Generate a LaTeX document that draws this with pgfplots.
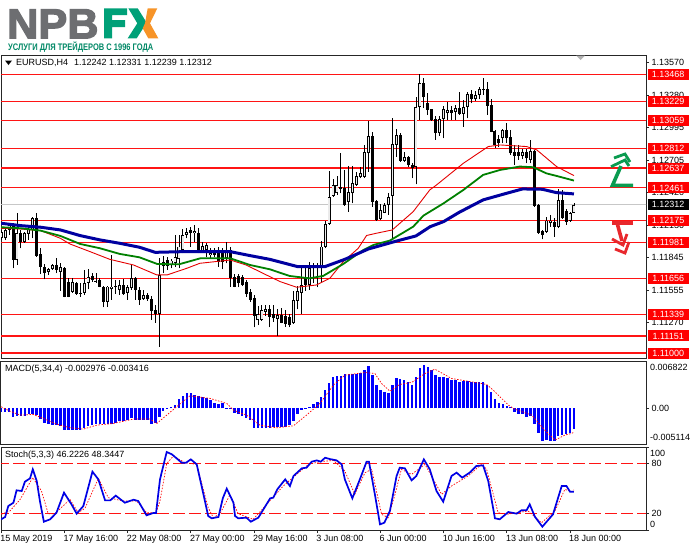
\documentclass[border=0pt]{standalone}
\usepackage{fontspec}
\usepackage{graphicx}
\setmainfont{Liberation Sans}
\newfontfamily\logofont[FakeBold=3]{Liberation Sans Bold}
\usepackage{pgfplots}
\usepackage{pgfplotstable}
\pgfplotsset{compat=1.18}

\definecolor{maBlue}{RGB}{0,0,160}
\definecolor{maGreen}{RGB}{0,128,0}
\definecolor{levelRed}{RGB}{255,20,20}
\definecolor{logoGrey}{RGB}{109,110,113}
\definecolor{logoGreen}{RGB}{0,160,120}
\definecolor{logoOrange}{RGB}{247,148,40}
\definecolor{upArrow}{RGB}{10,155,80}
\definecolor{dnArrow}{RGB}{232,40,45}
\newcommand{\mtfont}{\fontsize{9}{11}\selectfont}

% EURUSD H4 candles: bar open high low close
\pgfplotstableread{
i o h l c
0 1.12015 1.12089 1.12000 1.12074
1 1.12015 1.12095 1.12000 1.12089
2 1.12089 1.12154 1.12045 1.12133
3 1.12133 1.12148 1.11750 1.11824
4 1.11824 1.12237 1.11779 1.12060
5 1.12060 1.12089 1.11927 1.11986
6 1.11986 1.12074 1.11977 1.12060
7 1.12054 1.12133 1.12000 1.12095
8 1.12089 1.12201 1.12015 1.12192
9 1.12192 1.12237 1.11853 1.11859
10 1.11877 1.11927 1.11700 1.11765
11 1.11759 1.11788 1.11652 1.11706
12 1.11720 1.11750 1.11691 1.11741
13 1.11741 1.11785 1.11735 1.11779
14 1.11779 1.11838 1.11706 1.11735
15 1.11720 1.11800 1.11552 1.11759
16 1.11750 1.11765 1.11493 1.11499
17 1.11632 1.11661 1.11493 1.11499
18 1.11543 1.11661 1.11534 1.11632
19 1.11623 1.11632 1.11514 1.11523
20 1.11534 1.11623 1.11499 1.11523
21 1.11534 1.11735 1.11514 1.11623
22 1.11623 1.11741 1.11564 1.11670
23 1.11682 1.11706 1.11632 1.11647
24 1.11638 1.11706 1.11623 1.11632
25 1.11647 1.11661 1.11582 1.11588
26 1.11588 1.11593 1.11405 1.11455
27 1.11455 1.11593 1.11410 1.11588
28 1.11564 1.11868 1.11470 1.11588
29 1.11588 1.11647 1.11523 1.11582
30 1.11558 1.11647 1.11514 1.11602
31 1.11602 1.11652 1.11514 1.11523
32 1.11534 1.11602 1.11470 1.11582
33 1.11573 1.11788 1.11558 1.11661
34 1.11661 1.11676 1.11470 1.11558
35 1.11558 1.11582 1.11425 1.11470
36 1.11475 1.11558 1.11470 1.11514
37 1.11514 1.11529 1.11464 1.11475
38 1.11475 1.11505 1.11293 1.11375
39 1.11381 1.11425 1.11269 1.11346
40 1.11346 1.11838 1.11056 1.11691
41 1.11770 1.11859 1.11706 1.11809
42 1.11824 1.11853 1.11735 1.11770
43 1.11779 1.11829 1.11750 1.11818
44 1.11794 1.12045 1.11765 1.11847
45 1.11829 1.12045 1.11750 1.11942
46 1.11912 1.12095 1.11883 1.12045
47 1.12045 1.12104 1.12015 1.12074
48 1.12089 1.12119 1.11942 1.12060
49 1.12060 1.12133 1.11986 1.12083
50 1.12060 1.12104 1.11883 1.11906
51 1.11906 1.11986 1.11897 1.11947
52 1.11912 1.11977 1.11853 1.11956
53 1.11868 1.11927 1.11838 1.11888
54 1.11897 1.11927 1.11847 1.11868
55 1.11897 1.11942 1.11765 1.11809
56 1.11897 1.11927 1.11741 1.11809
57 1.11838 1.11986 1.11794 1.11897
58 1.11912 1.11942 1.11588 1.11661
59 1.11676 1.11700 1.11582 1.11588
60 1.11682 1.11700 1.11582 1.11617
61 1.11676 1.11691 1.11593 1.11602
62 1.11632 1.11647 1.11499 1.11523
63 1.11543 1.11564 1.11455 1.11470
64 1.11484 1.11514 1.11228 1.11328
65 1.11293 1.11416 1.11248 1.11346
66 1.11293 1.11425 1.11287 1.11381
67 1.11366 1.11425 1.11328 1.11387
68 1.11387 1.11425 1.11228 1.11322
69 1.11346 1.11425 1.11278 1.11307
70 1.11301 1.11387 1.11151 1.11337
71 1.11337 1.11396 1.11263 1.11269
72 1.11331 1.11381 1.11234 1.11257
73 1.11322 1.11346 1.11228 1.11248
74 1.11263 1.11552 1.11257 1.11470
75 1.11464 1.11593 1.11387 1.11552
76 1.11534 1.11779 1.11346 1.11602
77 1.11676 1.11779 1.11552 1.11602
78 1.11602 1.11809 1.11558 1.11750
79 1.11765 1.11794 1.11617 1.11750
80 1.11765 1.11794 1.11582 1.11759
81 1.11765 1.11995 1.11632 1.11942
82 1.11941 1.12171 1.11926 1.12142
83 1.12142 1.12614 1.12133 1.12384
84 1.12389 1.12537 1.12384 1.12487
85 1.12413 1.12566 1.12398 1.12487
86 1.12466 1.12767 1.12413 1.12448
87 1.12457 1.12620 1.12301 1.12310
88 1.12339 1.12655 1.12251 1.12428
89 1.12413 1.12655 1.12325 1.12508
90 1.12487 1.12605 1.12478 1.12567
91 1.12555 1.12649 1.12546 1.12596
92 1.12561 1.12841 1.12546 1.12782
93 1.12767 1.13054 1.12605 1.12921
94 1.12921 1.12959 1.12295 1.12340
95 1.12349 1.12355 1.12172 1.12178
96 1.12183 1.12319 1.12178 1.12266
97 1.12242 1.12325 1.12237 1.12310
98 1.12310 1.12414 1.12222 1.12384
99 1.12390 1.13077 1.12000 1.12850
100 1.12841 1.12980 1.12738 1.12930
101 1.12930 1.12945 1.12694 1.12703
102 1.12703 1.12782 1.12694 1.12738
103 1.12738 1.12744 1.12650 1.12664
104 1.12664 1.12685 1.12546 1.12635
105 1.12650 1.13263 1.12493 1.13175
106 1.13175 1.13467 1.13062 1.13387
107 1.13393 1.13431 1.13166 1.13263
108 1.13216 1.13299 1.13107 1.13151
109 1.13157 1.13163 1.13057 1.13062
110 1.13068 1.13098 1.12886 1.12945
111 1.12945 1.13098 1.12921 1.13068
112 1.13068 1.13186 1.12900 1.13157
113 1.13122 1.13225 1.13062 1.13151
114 1.13151 1.13186 1.13062 1.13122
115 1.13136 1.13195 1.13062 1.13166
116 1.13166 1.13313 1.13107 1.13116
117 1.13116 1.13240 1.13004 1.13175
118 1.13175 1.13313 1.13077 1.13290
119 1.13290 1.13328 1.13210 1.13245
120 1.13245 1.13322 1.13234 1.13284
121 1.13284 1.13352 1.13245 1.13334
122 1.13328 1.13431 1.13284 1.13334
123 1.13334 1.13402 1.13107 1.13186
124 1.13195 1.13245 1.12953 1.12959
125 1.12968 1.12974 1.12812 1.12841
126 1.12891 1.12930 1.12821 1.12856
127 1.12900 1.12980 1.12856 1.12974
128 1.12974 1.13033 1.12856 1.12900
129 1.12915 1.12974 1.12753 1.12767
130 1.12782 1.12841 1.12664 1.12744
131 1.12782 1.12841 1.12708 1.12744
132 1.12744 1.12803 1.12714 1.12782
133 1.12782 1.12803 1.12679 1.12723
134 1.12708 1.12886 1.12679 1.12788
135 1.12791 1.12797 1.12295 1.12301
136 1.12310 1.12319 1.12054 1.12065
137 1.12083 1.12089 1.12006 1.12045
138 1.12074 1.12201 1.12065 1.12172
139 1.12148 1.12222 1.12119 1.12172
140 1.12163 1.12192 1.12030 1.12119
141 1.12119 1.12449 1.12104 1.12355
142 1.12355 1.12443 1.12186 1.12192
143 1.12260 1.12272 1.12133 1.12163
144 1.12172 1.12251 1.12163 1.12242
145 1.12242 1.12331 1.12239 1.12312
}\candles

% MACD histogram
\pgfplotstableread{
i m
0 -0.00057
1 -0.00057
2 -0.00048
3 -0.00125
4 -0.00105
5 -0.00115
6 -0.00110
7 -0.00086
8 -0.00077
9 -0.00096
10 -0.00153
11 -0.00216
12 -0.00230
13 -0.00235
14 -0.00244
15 -0.00249
16 -0.00316
17 -0.00307
18 -0.00316
19 -0.00316
20 -0.00316
21 -0.00287
22 -0.00249
23 -0.00240
24 -0.00230
25 -0.00225
26 -0.00225
27 -0.00220
28 -0.00220
29 -0.00206
30 -0.00182
31 -0.00182
32 -0.00163
33 -0.00144
34 -0.00163
35 -0.00172
36 -0.00172
37 -0.00172
38 -0.00230
39 -0.00216
40 -0.00125
41 -0.00038
42 0.00010
43 0.00024
44 0.00048
45 0.00134
46 0.00182
47 0.00216
48 0.00220
49 0.00192
50 0.00172
51 0.00168
52 0.00144
53 0.00120
54 0.00072
55 0.00062
56 0.00072
57 0.00010
58 -0.00010
59 -0.00072
60 -0.00086
61 -0.00105
62 -0.00134
63 -0.00168
64 -0.00278
65 -0.00287
66 -0.00278
67 -0.00278
68 -0.00278
69 -0.00268
70 -0.00268
71 -0.00268
72 -0.00268
73 -0.00240
74 -0.00182
75 -0.00086
76 -0.00019
77 -0.00014
78 0.00024
79 0.00057
80 0.00096
81 0.00168
82 0.00263
83 0.00359
84 0.00455
85 0.00469
86 0.00469
87 0.00489
88 0.00489
89 0.00498
90 0.00498
91 0.00508
92 0.00546
93 0.00604
94 0.00479
95 0.00335
96 0.00263
97 0.00230
98 0.00220
99 0.00335
100 0.00431
101 0.00422
102 0.00407
103 0.00383
104 0.00335
105 0.00455
106 0.00575
107 0.00623
108 0.00599
109 0.00551
110 0.00479
111 0.00455
112 0.00455
113 0.00431
114 0.00407
115 0.00407
116 0.00383
117 0.00393
118 0.00393
119 0.00374
120 0.00374
121 0.00374
122 0.00374
123 0.00335
124 0.00230
125 0.00134
126 0.00072
127 0.00057
128 0.00038
129 0.00014
130 -0.00057
131 -0.00086
132 -0.00086
133 -0.00120
134 -0.00105
135 -0.00230
136 -0.00359
137 -0.00465
138 -0.00460
139 -0.00469
140 -0.00469
141 -0.00393
142 -0.00383
143 -0.00374
144 -0.00359
145 -0.00298
}\macdbars

\begin{document}
\begin{tikzpicture}[x=1pt,y=1pt]
\path[use as bounding box,fill=white] (0,0) rectangle (691,-549);

\pgfplotsset{
  pane/.style={
    at={(1pt,#1)},anchor=south west,scale only axis,width=645pt,
    xmin=-0.05,xmax=163.24,clip mode=individual,
    axis line style={draw=black!85,line width=1pt},
    tick style={black!85,line width=0.8pt},major tick length=3pt,
    tick align=outside,xtick pos=bottom,ytick pos=right,
    scaled y ticks=false,
    tick label style={font=\mtfont,inner sep=0pt},
    y tick label style={anchor=west,xshift=2.5pt},
  },
  candle/.style={draw=none,forget plot,error bars/y dir=plus,error bars/y explicit,error bars/error mark=none},
}

% main price pane
\begin{axis}[pane={-358pt},height=303pt,ymin=1.10956,ymax=1.13637,xtick=\empty,
  ytick={1.11270,1.11555,1.11845,1.12130,1.12420,1.12705,1.12995,1.13280,1.13570},
  yticklabels={1.11270,1.11555,1.11845,1.12130,1.12420,1.12705,1.12995,1.13280,1.13570}]
\addplot[black!22,line width=1pt,forget plot] coordinates {(-1,1.12312)(164,1.12312)};
\coordinate (lvlNow) at (axis cs:163.24,1.12312);
\pgfplotsinvokeforeach{13468,13229,13059,12812,12637,12461,12175,11981,11656,11339,11151,11000}{
  \addplot[levelRed,line width=1.1pt,forget plot] coordinates {(-1,1.#1)(164,1.#1)};
  \coordinate (lvl#1) at (axis cs:163.24,1.#1);
}
% wicks
\addplot[candle,error bars/error bar style={draw=black,line width=0.9pt}]
  table[x=i,y=l,y error expr=\thisrow{h}-\thisrow{l}] {\candles};
% bodies
\addplot[candle,error bars/error bar style={draw=black,line width=3pt}]
  table[x=i,y expr={min(\thisrow{o},\thisrow{c})},y error expr={max(abs(\thisrow{c}-\thisrow{o}),0.00008)}] {\candles};
% hollow centre of the rising bars
\addplot[candle,restrict expr to domain={\thisrow{c}-\thisrow{o}}{0.0002:1},
  error bars/error bar style={draw=white!92!black,line width=1.2pt}]
  table[x=i,y expr=\thisrow{o}+0.00008,y error expr=\thisrow{c}-\thisrow{o}-0.00016] {\candles};
% moving averages
\addplot[red!90!black,line width=0.9pt,forget plot] coordinates {
(0,1.12104)(5,1.12097)(10,1.12083)(15,1.12015)(17.4,1.11965)(22.5,1.11897)(27.5,1.11829)(33.5,1.11779)(39.4,1.11691)(42,1.11691)(47,1.11750)(50.3,1.11794)(58,1.11823)(62,1.11779)(66.3,1.11705)(70.6,1.11632)(74.8,1.11582)(79.8,1.11602)(83.2,1.11661)(86.6,1.11809)(90.4,1.11927)(92.5,1.12040)(95,1.12060)(99,1.12089)(104.3,1.12251)(108.5,1.12443)(110.2,1.12487)(117,1.12679)(123.3,1.12827)(126.3,1.12841)(133,1.12827)(135.6,1.12797)(140.6,1.12650)(145,1.12570)};
\addplot[maGreen,line width=1.8pt,forget plot] coordinates {
(0,1.12113)(5,1.12104)(10,1.12083)(15,1.12036)(20,1.11965)(25,1.11927)(30,1.11877)(35,1.11847)(39.5,1.11788)(45,1.11785)(50.4,1.11838)(58,1.11838)(63,1.11779)(68,1.11741)(73,1.11682)(78,1.11661)(81.5,1.11682)(86.6,1.11788)(91.7,1.11912)(94.2,1.11956)(98.4,1.11995)(104.3,1.12118)(106.9,1.12216)(112,1.12325)(117,1.12443)(122,1.12576)(126.3,1.12620)(131.3,1.12650)(134.7,1.12644)(138,1.12590)(140.6,1.12567)(145,1.12526)};
\addplot[maBlue,line width=3pt,forget plot] coordinates {
(0,1.12148)(5,1.12127)(10,1.12113)(15,1.12089)(20,1.12039)(25,1.12001)(30,1.11971)(35,1.11936)(39,1.11891)(46,1.11897)(58,1.11897)(63,1.11862)(68,1.11829)(75,1.11765)(82,1.11765)(87,1.11829)(93,1.11921)(100,1.11990)(105,1.12036)(108.6,1.12118)(112,1.12163)(116,1.12246)(122,1.12355)(128,1.12414)(132,1.12452)(137,1.12449)(140.6,1.12419)(145,1.12408)};
\end{axis}

% MACD pane
\begin{axis}[pane={-444pt},height=83pt,ymin=-0.005114,ymax=0.006822,xtick=\empty,
  ytick={0},yticklabels={0.00}]
\addplot[ycomb,blue,line width=2.6pt,forget plot] table[x=i,y=m] {\macdbars};
\addplot[red,line width=0.7pt,dash pattern=on 1.5pt off 1.5pt,forget plot] coordinates {
(0,0.00024)(2.2,-0.00038)(4.8,-0.00096)(8.1,-0.00086)(10.7,-0.00144)(14,-0.00225)(17.4,-0.00278)(20.8,-0.00297)(24.2,-0.00240)(28.4,-0.00216)(33.5,-0.00153)(37.7,-0.00153)(39.4,-0.00216)(41.9,-0.00096)(44.4,0.00024)(47.8,0.00182)(52.9,0.00144)(57.1,0.00072)(58.8,-0.00024)(62.1,-0.00096)(65.5,-0.00240)(69.7,-0.00278)(74,-0.00249)(77.3,-0.00096)(80.7,0.00072)(84.1,0.00335)(87,0.00479)(92.1,0.00517)(94.6,0.00503)(96.3,0.00359)(98.4,0.00249)(100.9,0.00345)(103.9,0.00374)(107.3,0.00503)(109.8,0.00565)(114,0.00431)(119.1,0.00383)(122.9,0.00345)(125,0.00240)(128.4,0.00048)(130,-0.00010)(134.3,-0.00096)(137.6,-0.00311)(140.2,-0.00455)(142.7,-0.00383)(144.4,-0.00359)(145,-0.00342)};
\end{axis}

% stochastic pane
\begin{axis}[pane={-530pt},height=83pt,ymin=0,ymax=100,
  ytick={0,20,80,100},yticklabels={,20,80,},
  xtick={0,16,...,144},
  xticklabels={15 May 2019,17 May 16:00,22 May 08:00,27 May 00:00,29 May 16:00,3 Jun 08:00,6 Jun 00:00,10 Jun 16:00,13 Jun 08:00,18 Jun 00:00},
  x tick label style={anchor=north west,xshift=-1pt,yshift=-2.5pt}]
\addplot[levelRed,line width=1.4pt,dash pattern=on 12pt off 4pt,forget plot] coordinates {(-1,80)(164,80)};
\addplot[levelRed,line width=1.4pt,dash pattern=on 12pt off 4pt,forget plot] coordinates {(-1,20)(164,20)};
\addplot[red,line width=0.7pt,dash pattern=on 1.5pt off 1.5pt,forget plot] coordinates {
(0,18.9)(2.2,22.9)(4.8,36.9)(8,63.1)(10.2,47)(11.9,19.7)(13.6,19.7)(17.4,36.9)(19.5,20.9)(21.2,26.1)(24.6,62.2)(27.1,39)(30.9,34.9)(34.3,34.9)(36.8,20.9)(39.2,20.9)(40.2,34.9)(41.9,79.9)(43.6,89.2)(46.5,81.1)(49.5,79.1)(52.4,26.9)(53.7,14.9)(55.4,19.7)(57.9,42.2)(60,19.7)(63.8,12.9)(67.2,30.9)(71.4,53)(74.8,67.1)(77.8,79.1)(80.7,82.3)(84.1,83.9)(87,71.1)(89.5,43)(92.1,69.1)(93.8,73.1)(96.3,18.9)(98,14.9)(99.7,43)(101.3,73.1)(103.9,67.1)(107.3,79.1)(111.5,43)(114,53)(118.2,65.1)(121.6,79.1)(122.9,73.1)(125.8,20.9)(127.9,18.9)(133.4,22.9)(136.8,8.8)(140.2,22.9)(142.7,49)(144.4,46.2)(145,48.3)};
\addplot[blue!90!black,line width=1.7pt,forget plot] coordinates {
(0,12.9)(1,15.7)(1.8,28.9)(3.1,32.9)(3.9,47.8)(5.2,47)(6,58.2)(7.3,62.2)(8,73.1)(9,59)(9.8,34.9)(10.8,10)(12.4,12.9)(14,20.9)(15.9,45)(17.8,30.9)(19.1,19.7)(20.8,28.9)(23.1,70.3)(24.6,61)(26.3,35.7)(27.6,35.7)(29,41.4)(31.3,32.9)(33.5,36.5)(34.7,34.9)(36.8,17.7)(38.5,20.5)(39.2,20.5)(40.2,61)(41.9,94)(43.2,91.2)(45.7,81.1)(46.8,81.1)(48,85.1)(49.5,79.1)(51.2,43)(52.4,16.9)(53.3,14.1)(55,15.7)(56.1,38.2)(57.1,49.8)(58.8,32.9)(59.2,16.9)(60,14.1)(62.1,14.9)(63.2,10)(65.1,14.9)(68.1,38.2)(68.9,39)(69.9,49)(71.9,61)(73.1,53)(74,65.1)(76.1,74.3)(77.3,75.1)(78.6,82.3)(79.9,83.9)(80.9,82.3)(82,87.1)(83.2,85.5)(84.9,83.9)(86.2,79.1)(87,61)(88.9,38.2)(90.8,61)(92.5,82.3)(93.1,82.3)(94.6,43)(95.9,6.8)(97,8.8)(98.4,22.9)(100.1,65.1)(100.9,75.1)(102.2,74.3)(103.9,59.8)(105.1,65.1)(107,85.1)(108.5,73.1)(110.2,47)(111.9,34.1)(114,65.1)(115.3,69.1)(116.7,63.1)(118.6,69.1)(120.3,77.1)(122,77.9)(123.3,59)(125,14.1)(126.2,12.9)(128.4,21.7)(130.5,19.7)(131.7,23.7)(133,23.7)(133.8,30.9)(135.1,16.1)(137,4)(139.7,18.9)(141.9,53)(143.1,53)(144,46.2)(145,46.2)};
\end{axis}

% price tags on the right scale
\tikzset{pricetag/.style={anchor=west,inner sep=0pt,minimum width=41pt,minimum height=11pt,
  text=white,xshift=1.5pt,font=\mtfont}}
\foreach \v in {13468,13229,13059,12812,12637,12461,12175,11981,11656,11339,11151,11000}
  \node[pricetag,fill=red] at (lvl\v) {1.\v};
\node[pricetag,fill=black] at (lvlNow) {1.12312};

% scale labels set inside the pane edges
\tikzset{scalelab/.style={anchor=west,inner sep=0pt,font=\mtfont}}
\node[scalelab] at (650,-367.7) {0.006822};
\node[scalelab] at (650,-437.7) {-0.005114};
\node[scalelab] at (650,-453.3) {100};
\node[scalelab] at (650,-524) {0};

% pane captions
\tikzset{caption/.style={anchor=west,inner sep=0pt,font=\mtfont}}
\fill[black] (5,-60.5) -- (12,-60.5) -- (8.5,-65) -- cycle;
\node[caption] at (16,-63) {EURUSD,H4\hspace{6pt}1.12242 1.12331 1.12239 1.12312};
\node[caption] at (5,-369.5) {MACD(5,34,4) -0.002976 -0.003416};
\node[caption] at (5,-455.5) {Stoch(5,3,3) 46.2226 48.3447};
\fill[black!30] (576,-55.5) -- (585,-55.5) -- (580.5,-60) -- cycle;

% arrows
\draw[upArrow,line width=3.6pt,line join=miter] (633,-185.3) -- (612.5,-185.3) -- (621,-166);
\draw[upArrow,line width=2.8pt] (611,-166.7) -- (625,-160) -- (629,-166);
\draw[upArrow,line width=2.8pt] (614,-158) -- (625,-154) -- (630,-162);
\draw[dnArrow,line width=3.6pt] (633,-222.7) -- (612,-222.7);
\draw[dnArrow,line width=3.6pt] (617,-222.7) -- (622,-241);
\draw[dnArrow,line width=2.8pt] (612,-239) -- (623,-245) -- (627,-234);
\draw[dnArrow,line width=2.8pt] (615,-249) -- (625,-253) -- (629,-242);

% logo
\node[anchor=base west,inner sep=0pt,text=logoGrey,font=\logofont\fontsize{42}{42}\selectfont] at (7,-38.3) {\scalebox{1.03}[1]{NPB}};
\fill[logoGreen] (104,-8.3) -- (127,-8.3) -- (127,-15) -- (112,-15) -- (112,-20) -- (125,-20) -- (125,-27) -- (112,-27) -- (112,-38.3) -- (104,-38.3) -- cycle;
\fill[logoGreen] (128.3,-8.3) -- (137.7,-8.3) -- (146.7,-22.7) -- (136.7,-38.3) -- (127.7,-38.3) -- (137.3,-23.3) -- cycle;
\fill[logoOrange] (147.7,-8.3) -- (157.3,-8.3) -- (150,-23.3) -- (158.3,-38.3) -- (148.3,-38.3) -- (142.7,-28.3) -- (145,-23.3) -- cycle;
\node[anchor=west,inner sep=0pt,text=logoGreen!85!black,font=\bfseries\fontsize{9.5}{11}\selectfont] at (8,-47.5) {\scalebox{0.79}[1]{УСЛУГИ ДЛЯ ТРЕЙДЕРОВ С 1996 ГОДА}};
\end{tikzpicture}
\end{document}
